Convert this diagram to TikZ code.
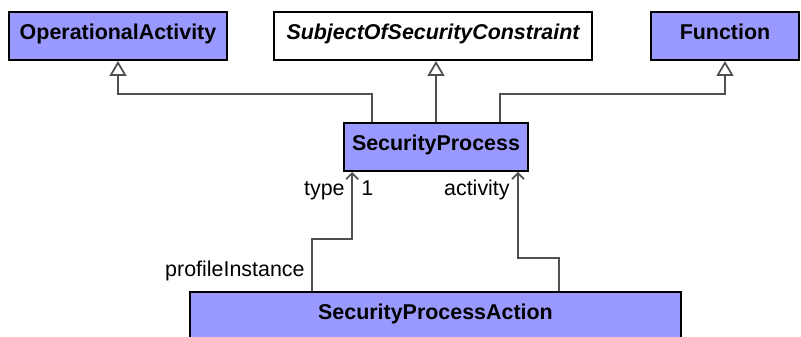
\documentclass[tikz,border=0pt]{standalone}
\usepackage{fontspec}
\setmainfont{Liberation Sans}
\usetikzlibrary{arrows.meta,calc}
\definecolor{boxFill}{RGB}{153, 153, 255}
\definecolor{lineCol}{RGB}{80, 80, 80}

\begin{document}
\begin{tikzpicture}[
    x=0.02cm, y=0.02cm,
    font=\fontsize{12.2pt}{14pt}\selectfont,
    umlbox/.style={draw=black, line width=1.1pt, inner sep=0.1cm,
        text height=0.45cm, text depth=0.31cm, font=\fontsize{12.2pt}{14pt}\selectfont\bfseries},
    gen/.style={draw=lineCol, line width=1pt,
        -{Triangle[open, length=0.3cm, width=0.34cm, fill=white]}},
    assoc/.style={draw=lineCol, line width=1pt,
        -{Straight Barb[length=0.12cm, width=0.24cm]}},
    lbl/.style={inner sep=0pt}
]

    \clip (0,0) rectangle (801,337);

    % ================= 上层: 三个父类 =================
    \node[umlbox, fill=boxFill, minimum width=4.36cm] (oa) at (118, 301) {OperationalActivity};
    \node[umlbox, fill=white, minimum width=6.36cm] (sosc) at (433, 301) {\itshape SubjectOfSecurityConstraint};
    \node[umlbox, fill=boxFill, minimum width=2.96cm] (fn) at (725, 301) {Function};

    % ================= 中层: SecurityProcess =================
    \node[umlbox, fill=boxFill, minimum width=3.68cm] (sp) at (436, 190) {SecurityProcess};

    % ================= 下层: SecurityProcessAction =================
    \node[umlbox, fill=boxFill, minimum width=9.82cm, anchor=north,
        text depth=0.5cm] (spa) at (435.5, 46) {SecurityProcessAction};

    % ================= 泛化关系 =================
    \draw[gen] ($(sp.north)+(-64,0)$) |- ($(oa.south)+(0,-33)$) -| (oa.south);
    \draw[gen] (sp.north) -- (sp.north |- sosc.south);
    \draw[gen] ($(sp.north)+(64,0)$) |- ($(fn.south)+(0,-33)$) -| (fn.south);

    % ================= 关联: type / activity =================
    \draw[assoc] ($(spa.north)+(-123.5,0)$) |- ($(sp.south west)+(9,-67)$) -- ($(sp.south west)+(9,0)$);
    \draw[assoc] ($(spa.north)+(123.5,0)$) |- ($(sp.south east)+(-11,-86)$) -- ($(sp.south east)+(-11,0)$);

    % ================= 端点标签 (基线对齐) =================
    \node[lbl, anchor=base east] (typeLbl) at (345, 141) {type};
    \node[lbl, anchor=base west] (multLbl) at (361, 141) {1};
    \node[lbl, anchor=base east] (actLbl) at (510, 141) {activity};
    \node[lbl, anchor=base east] (piLbl) at (305, 60) {profileInstance};

\end{tikzpicture}
\end{document}
